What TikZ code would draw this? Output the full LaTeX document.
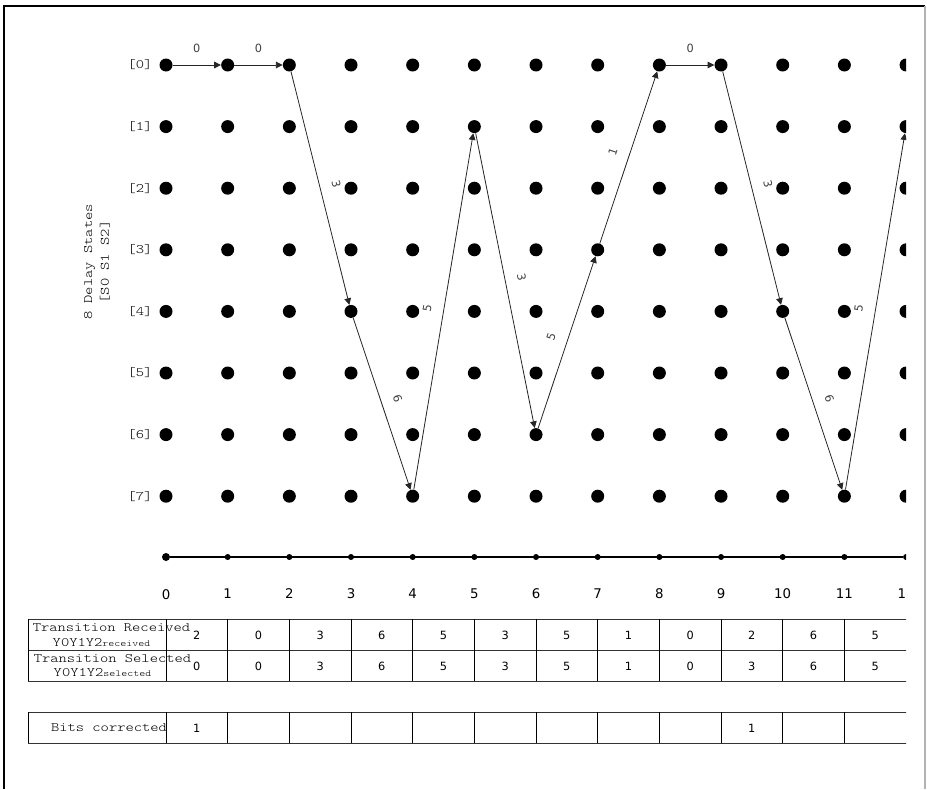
\documentclass[tikz,border=0pt]{standalone}
\usepackage{fontspec}
\setmainfont{DejaVu Sans}
\newfontfamily\trellisfont[FakeStretch=1.22]{lmmonolt10-regular.otf}
\usetikzlibrary{arrows.meta,positioning}
\newcommand{\colx}[1]{166+61.67*#1}
\newcommand{\rowy}[1]{65+61.6*#1}

\begin{document}
\begin{tikzpicture}[x=0.75pt,y=-0.75pt,>={Triangle[length=5pt,width=5pt]},
  state/.style={circle,fill=black,inner sep=0pt,minimum size=9.75pt},
  tick/.style={circle,fill=black,inner sep=0pt,minimum size=4.5pt},
  trans/.style={->,line width=0.6pt,black!85},
  branch/.style={font=\fontsize{8.5}{10}\selectfont,text=black!75,inner sep=1pt},
  mono/.style={font=\trellisfont\fontsize{9.7}{12.5}\selectfont},
  cellnum/.style={font=\fontsize{8.5}{10}\selectfont},
  rule/.style={line width=0.7pt,black!80},
  sep/.style={line width=0.7pt,black}]
  \useasboundingbox (0,0) rectangle (927,789);
  \draw[line width=0.8pt] (4,789) -- (4,6) -- (925,6);
  \draw[gray!60,line width=0.8pt] (925,6) -- (925,789);
  \begin{scope}
    \clip (0,0) rectangle (906,789);
    % trellis of delay states
    \foreach \i in {0,...,12} \foreach \j in {0,...,7}
      \node[state] (d-\i-\j) at ({\colx{\i}},{\rowy{\j}}) {};
    \foreach \j in {0,...,7}
      \node[mono,left=1.5pt of d-0-\j] (r-\j) {[\j]};
    \node[mono,rotate=90,align=center] (states) at (97,262)
      {8 Delay States\\{}[S0 S1 S2]};
    % survivor path
    \foreach \s/\t/\l [count=\i from 0] in {0/0/0,0/0/0,0/4/3,4/7/6,7/1/5,1/6/3,
        6/3/5,3/0/1,0/0/0,0/4/3,4/7/6,7/1/5}
      {\pgfmathtruncatemacro\n{\i+1}
       \draw[trans] (d-\i-\s) -- node[branch,sloped,above=8pt] {\l} (d-\n-\t);}
    % time axis
    \node[tick,minimum size=6pt] (t-0) at ({\colx{0}},557) {};
    \foreach \i in {1,...,12}
      \node[tick] (t-\i) at ({\colx{\i}},557) {};
    \draw[line width=0.8pt] (t-0) -- (t-12);
    \foreach \i in {0,...,12}
      \node[font=\fontsize{10}{12}\selectfont,below=18pt of t-\i] (n-\i) {\i};
    % tables
    \foreach \y in {619,650.5,681,712,743}
      \draw[rule] (28,\y) -- (910,\y);
    \draw[sep] (28,619) -- (28,681) (28,712) -- (28,743);
    \foreach \i in {0,...,11}
      \draw[sep] ({\colx{\i}},619) -- ({\colx{\i}},681)
                 ({\colx{\i}},712) -- ({\colx{\i}},743);
    \node[mono] (rec) at (111.5,628) {Transition Received};
    \node[mono] (recy) at (101.5,643) {Y0Y1Y2\fontsize{7}{8}\selectfont received};
    \node[mono] (sel) at (112.5,659) {Transition Selected};
    \node[mono] (sely) at (102.5,673) {Y0Y1Y2\fontsize{7}{8}\selectfont selected};
    \node[mono] (bits) at (109,728) {Bits corrected};
    \foreach \v [count=\i from 0] in {2,0,3,6,5,3,5,1,0,2,6,5}
      \node[cellnum] (rv-\i) at ({\colx{\i}+30.8},635) {\v};
    \foreach \v [count=\i from 0] in {0,0,3,6,5,3,5,1,0,3,6,5}
      \node[cellnum] (sv-\i) at ({\colx{\i}+30.8},666) {\v};
    \foreach \i in {0,9}
      \node[cellnum] (bv-\i) at ({\colx{\i}+30.8},728) {1};
  \end{scope}
\end{tikzpicture}
\end{document}
